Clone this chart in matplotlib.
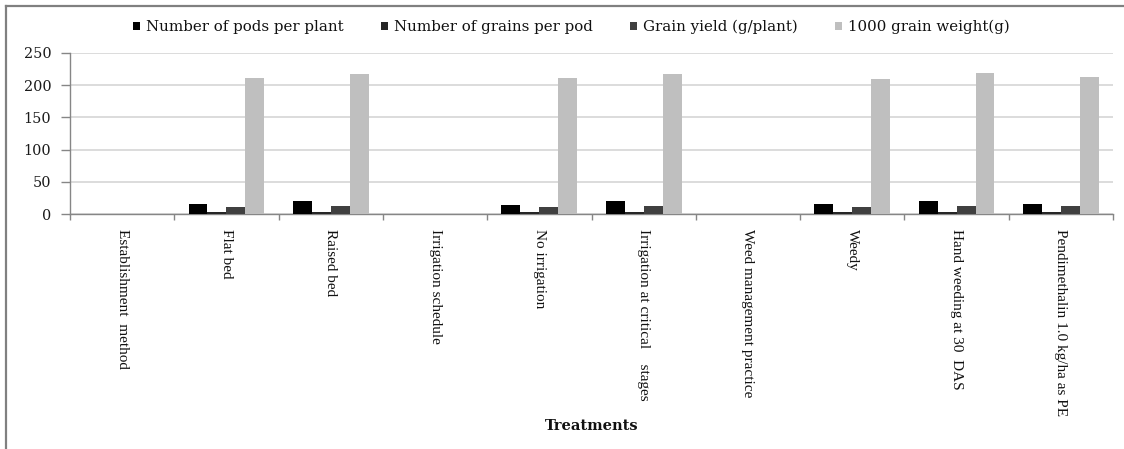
import numpy as np
import matplotlib
matplotlib.use("Agg")
import matplotlib.pyplot as plt
from matplotlib.lines import Line2D

# Treatment categories (group headings carry no data)
categories = [
    "Establishment  method",
    "Flat bed",
    "Raised bed",
    "Irrigation schedule",
    "No irrigation",
    "Irrigation at critical    stages",
    "Weed management practice",
    "Weedy",
    "Hand weeding at 30  DAS",
    "Pendimethalin 1.0 kg/ha as PE",
]

series_names = [
    "Number of pods per plant",
    "Number of grains per pod",
    "Grain yield (g/plant)",
    "1000 grain weight(g)",
]

nan = np.nan
pods_per_plant = [nan, 15.5, 20.0, nan, 14.7, 19.5, nan, 15.3, 19.5, 16.3]
grains_per_pod = [nan, 3.8, 3.8, nan, 3.8, 3.8, nan, 3.8, 3.8, 3.8]
grain_yield = [nan, 11.5, 12.7, nan, 10.6, 12.7, nan, 10.2, 12.7, 11.7]
grain_weight_1000 = [nan, 210.5, 217.2, nan, 211.0, 217.0, nan, 210.0, 218.3, 213.0]

y_ticks = [0, 50, 100, 150, 200, 250]

colors = ["#000000", "#262626", "#404040", "#bfbfbf"]

W, H = 1124, 449
fig = plt.figure(figsize=(W / 100, H / 100), dpi=100)
fig.patch.set_facecolor("white")

ax = fig.add_axes([70 / W, 1 - 214 / H, (1113 - 70) / W, (214 - 53) / H])

x = np.arange(len(categories))
bar_w = 1 / 5.5
all_series = [pods_per_plant, grains_per_pod, grain_yield, grain_weight_1000]
for k, (vals, name, c) in enumerate(zip(all_series, series_names, colors)):
    ax.bar(x + (k - 1.5) * bar_w, vals, width=bar_w, color=c, label=name,
           linewidth=0, zorder=3)

ax.set_xlim(-0.5, len(categories) - 0.5)
ax.set_ylim(0, 250)

# y axis
ax.set_yticks(y_ticks)
ax.set_yticklabels([str(v) for v in y_ticks], family="DejaVu Serif",
                   fontsize=10.4, color="#1a1a1a")
ax.tick_params(axis="y", length=6.5, width=1, color="#868686", pad=7)
ax.yaxis.grid(True, color="#d9d9d9", linewidth=1.3, zorder=0)
ax.set_axisbelow(True)

# x axis: boundary ticks, labels at category centres
ax.set_xticks(np.arange(len(categories) + 1) - 0.5)
ax.set_xticklabels([])
ax.tick_params(axis="x", which="major", length=4.5, width=1, color="#868686",
               direction="out")
ax.set_xticks(x, minor=True)
ax.set_xticklabels(categories, minor=True, rotation=270,
                   family="Liberation Serif", fontsize=11, color="#111111")
ax.tick_params(axis="x", which="minor", length=0, pad=11)

for side in ["top", "right"]:
    ax.spines[side].set_visible(False)
for side in ["left", "bottom"]:
    ax.spines[side].set_color("#868686")
    ax.spines[side].set_linewidth(1)

fig.text(592 / W, 1 - 426 / H, "Treatments", ha="center", va="center",
         family="DejaVu Serif", fontweight="bold", fontsize=10.5,
         color="#111111")

leg = fig.legend(loc="center", bbox_to_anchor=(571 / W, 1 - 27 / H),
                 ncol=4, frameon=False, handlelength=0.5, handleheight=0.5,
                 handletextpad=0.35, columnspacing=2.5,
                 prop={"family": "DejaVu Serif", "size": 10.8})
for t in leg.get_texts():
    t.set_color("#111111")

# outer chart frame
fig.add_artist(Line2D([6 / W, 6 / W], [0, 1 - 6 / H], transform=fig.transFigure,
                      color="#808080", linewidth=1.6))
fig.add_artist(Line2D([6 / W, 1], [1 - 6 / H, 1 - 6 / H], transform=fig.transFigure,
                      color="#808080", linewidth=1.6))

fig.savefig("out.png", dpi=100, facecolor="white")
